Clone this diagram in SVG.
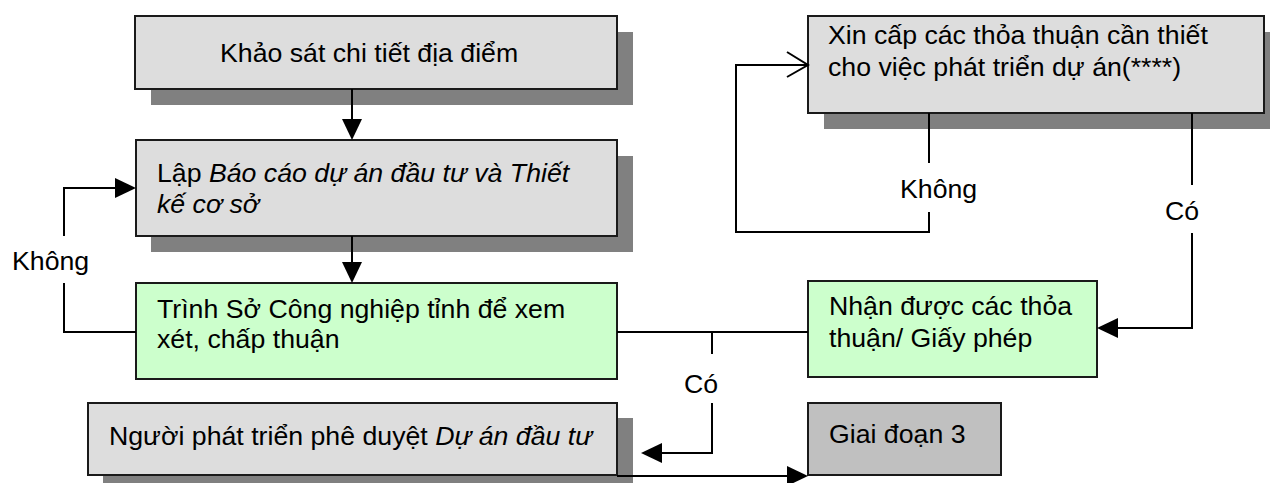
<svg xmlns="http://www.w3.org/2000/svg" width="1270" height="483" viewBox="0 0 1270 483">
<defs>
<style>
text{font-family:"Liberation Sans",Arial,sans-serif;font-size:26.7px;fill:#000}
.it{font-style:italic}
.box{stroke:#1a1a1a;stroke-width:2}
.gray{fill:#dddddd}
.green{fill:#ccffcc}
.dark{fill:#c0c0c0}
.shadow{fill:#808080}
.ln{fill:none;stroke:#000;stroke-width:2}
.head{fill:#000}
</style>
</defs>
<rect width="1270" height="483" fill="#ffffff"/>

<g id="node-khao-sat">
<rect class="shadow" x="151" y="32" width="482" height="73"/>
<rect class="box gray" x="135" y="16" width="482" height="73"/>
<text x="220" y="62">Khảo sát chi tiết địa điểm</text>
</g>

<g id="node-lap-bao-cao">
<rect class="shadow" x="151" y="156" width="482" height="96"/>
<rect class="box gray" x="136" y="140" width="481" height="96"/>
<text x="157" y="182">Lập <tspan class="it">Báo cáo dự án đầu tư và Thiết</tspan></text>
<text x="157" y="213" class="it">kế cơ sở</text>
</g>

<g id="node-trinh-so">
<rect class="box green" x="136" y="283" width="481" height="96"/>
<text x="157" y="318">Trình Sở Công nghiệp tỉnh để xem</text>
<text x="157" y="348">xét, chấp thuận</text>
</g>

<g id="node-nguoi-phat-trien">
<rect class="shadow" x="103" y="418" width="530" height="73"/>
<rect class="box gray" x="88" y="403" width="529" height="72"/>
<text x="109" y="445">Người phát triển phê duyệt <tspan class="it">Dự án đầu tư</tspan></text>
</g>

<g id="node-xin-cap">
<rect class="shadow" x="824" y="32" width="456" height="97"/>
<rect class="box gray" x="808" y="16" width="456" height="97"/>
<text x="828" y="44">Xin cấp các thỏa thuận cần thiết</text>
<text x="828" y="76">cho việc phát triển dự án(****)</text>
</g>

<g id="node-nhan-duoc">
<rect class="box green" x="808" y="281" width="289" height="96"/>
<text x="829" y="315">Nhận được các thỏa</text>
<text x="829" y="347">thuận/ Giấy phép</text>
</g>

<g id="node-giai-doan-3">
<rect class="box dark" x="808" y="403" width="193" height="72"/>
<text x="829" y="443">Giai đoạn 3</text>
</g>

<g id="connectors">
<!-- khao sat -> lap bao cao -->
<line class="ln" x1="352" y1="89" x2="352" y2="120"/>
<polygon class="head" points="342,119 362,119 352,140"/>
<!-- lap bao cao -> trinh so -->
<line class="ln" x1="352" y1="236" x2="352" y2="263"/>
<polygon class="head" points="342,262 362,262 352,283"/>
<!-- trinh so -> lap bao cao (Khong) -->
<path class="ln" d="M136,332 H64 V283"/>
<path class="ln" d="M64,236 V188 H116"/>
<polygon class="head" points="115,178 115,198 136,188"/>
<text x="12" y="270">Không</text>
<!-- trinh so - nhan duoc -->
<line class="ln" x1="617" y1="332" x2="808" y2="332"/>
<!-- Co -> nguoi phat trien -->
<path class="ln" d="M712,332 V354"/>
<path class="ln" d="M712,403 V453 H661"/>
<polygon class="head" points="662,443 662,463 641,453"/>
<text x="684" y="393">Có</text>
<!-- xin cap -> nhan duoc (Co) -->
<path class="ln" d="M1192,113 V185"/>
<path class="ln" d="M1192,233 V328 H1117"/>
<polygon class="head" points="1118,318 1118,338 1097,328"/>
<text x="1165" y="220">Có</text>
<!-- xin cap loop (Khong) -->
<path class="ln" d="M929,113 V163"/>
<path class="ln" d="M929,212 V232 H736 V65 H808"/>
<path class="ln" d="M787,52 L808,65 L787,77"/>
<text x="900" y="198">Không</text>
<!-- nguoi phat trien -> giai doan 3 -->
<line class="ln" x1="617" y1="476" x2="788" y2="476"/>
<polygon class="head" points="787,466 787,486 808,476"/>
</g>
</svg>
